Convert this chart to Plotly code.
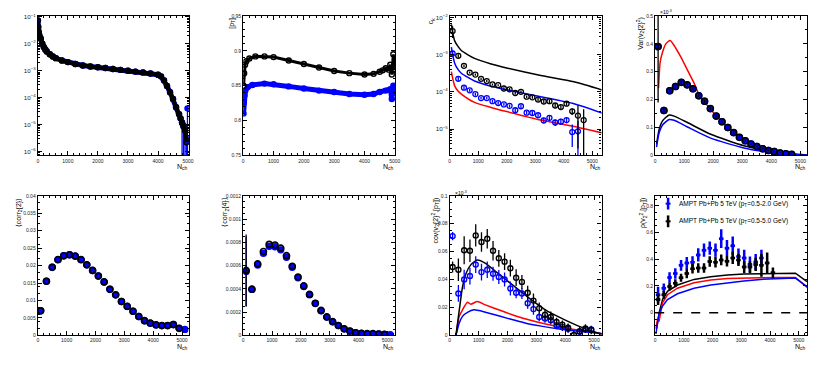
import plotly.graph_objects as go

# the page body keeps its default 8px margin, so the figure is drawn 8px in and
# everything below is placed in window pixels and shifted back by OFF
OFF = 8
W, H = 814, 350

# ---------------- data ----------------
# panel 1: multiplicity distribution
nch_dist = [5, 15, 30, 50, 75, 100, 150, 200, 250, 300, 400, 500, 600, 800, 1000, 1250, 1500,
            1750, 2000, 2250, 2500, 2750, 3000, 3250, 3500, 3750, 4000, 4100, 4200, 4300, 4400,
            4500, 4600, 4700, 4750, 4800, 4850, 4900, 4950]
dist_vals = [7.5e-2, 4.3e-2, 2.75e-2, 2.1e-2, 1.7e-2, 1.55e-2, 1.02e-2, 7.6e-3, 6.2e-3, 5.2e-3,
             4.1e-3, 3.4e-3, 2.95e-3, 2.4e-3, 2.1e-3, 1.78e-3, 1.58e-3, 1.45e-3, 1.35e-3, 1.26e-3,
             1.17e-3, 1.08e-3, 1.0e-3, 9.3e-4, 8.7e-4, 7.9e-4, 7.1e-4, 6.2e-4, 4.4e-4, 2.7e-4,
             1.6e-4, 8.9e-5, 4.4e-5, 2.45e-5, 1.7e-5, 1.17e-5, 8.5e-6, 6e-6, 2.2e-6]
nch_dist_tail = [4800, 4850, 4900, 4950, 4980]
dist_tail_blue = [1.2e-5, 9e-6, 6e-6, 3e-6, 4e-5]

# panel 2: mean pT
nch_pt_black = [10, 30, 60, 100, 200, 400, 700, 1000, 1500, 2000, 2500, 3000, 3500, 4000, 4300,
                4500, 4600, 4700, 4800, 4850, 4900, 4950, 5000]
pt_black = [0.850, 0.868, 0.880, 0.885, 0.889, 0.892, 0.892, 0.891, 0.886, 0.881, 0.876, 0.871,
            0.868, 0.866, 0.867, 0.870, 0.872, 0.875, 0.873, 0.880, 0.866, 0.895, 0.872]
nch_pt_blue = [10, 20, 40, 70, 150, 300, 700, 1000, 1500, 2000, 2500, 3000, 3500, 4000, 4300,
               4500, 4700, 4850, 4900, 4950, 5000]
pt_blue = [0.810, 0.826, 0.836, 0.843, 0.848, 0.851, 0.853, 0.852, 0.849, 0.846, 0.843, 0.841,
           0.838, 0.837, 0.838, 0.841, 0.843, 0.845, 0.831, 0.850, 0.840]

# panel 3: c_k
nch_ck_black = [100, 300, 500, 700, 900, 1100, 1300, 1500, 1700, 1900, 2100, 2300, 2500, 2700,
                2900, 3100, 3300, 3500, 3700, 3900, 4100, 4300, 4500, 4700]
ck_black = [4.3e-3, 9.3e-4, 5.0e-4, 3.3e-4, 2.9e-4, 2.24e-4, 1.95e-4, 1.58e-4, 1.51e-4, 1.23e-4,
            1.17e-4, 9.3e-5, 1.0e-4, 7.4e-5, 7.1e-5, 6.2e-5, 5.5e-5, 5.6e-5, 4.3e-5, 3.9e-5,
            4.8e-5, 3.0e-5, 2.3e-5, 1.74e-5]
ck_black_err = [1.5e-3, 1e-4, 4e-5, 2e-5, 2e-5, 1.5e-5, 1.5e-5, 1e-5, 1e-5, 1e-5, 1e-5, 8e-6,
                8e-6, 6e-6, 6e-6, 6e-6, 6e-6, 6e-6, 5e-6, 5e-6, 6e-6, 6e-6, 2e-5, 1.65e-5]
nch_ck_blue = nch_ck_black[:23]
ck_blue = [1.07e-3, 2.24e-4, 1.29e-4, 1.10e-4, 8.7e-5, 6.8e-5, 6.8e-5, 5.6e-5, 5.0e-5, 4.6e-5,
           4.2e-5, 3.2e-5, 4.1e-5, 2.75e-5, 2.7e-5, 2.35e-5, 1.7e-5, 2.0e-5, 1.5e-5, 1.58e-5,
           1.74e-5, 8.3e-6, 8.7e-6]
ck_blue_err = [2e-4, 3e-5, 1.5e-5, 1e-5, 8e-6, 6e-6, 6e-6, 5e-6, 5e-6, 4e-6, 4e-6, 4e-6, 4e-6,
               3e-6, 3e-6, 3e-6, 3e-6, 3e-6, 3e-6, 3e-6, 3e-6, 5e-6, 8e-6]
nch_ck_model = [58, 116, 174, 290, 407, 872, 1453, 2035, 3198, 4360, 5349]
ck_model_black = [6.5e-3, 3.5e-3, 2.34e-3, 1.66e-3, 1.29e-3, 7.9e-4, 5.6e-4, 4.3e-4, 2.75e-4,
                  1.86e-4, 1.12e-4]
ck_model_blue = [1.58e-3, 8.9e-4, 5.9e-4, 4.0e-4, 3.16e-4, 1.95e-4, 1.41e-4, 1.12e-4, 7.4e-5,
                 4.8e-5, 2.7e-5]
ck_model_red = [3.5e-4, 2.1e-4, 1.45e-4, 1.05e-4, 8.7e-5, 5.2e-5, 3.8e-5, 2.9e-5, 1.74e-5,
                1.17e-5, 7.9e-6]

# panel 4: Var(v2{2}^2)  (x 1e-3)
nch_var = [100, 300, 500, 700, 900, 1100, 1300, 1500, 1700, 1900, 2100, 2300, 2500, 2700, 2900,
           3100, 3300, 3500, 3700, 3900, 4100, 4300, 4500, 4700]
var_vals = [0.39, 0.161, 0.232, 0.247, 0.262, 0.253, 0.239, 0.214, 0.194, 0.168, 0.141, 0.121,
            0.100, 0.082, 0.065, 0.053, 0.041, 0.032, 0.024, 0.018, 0.014, 0.009, 0.006, 0.004]
var_black_err = [0.2, 0.006, 0.006, 0.006, 0.006, 0.006, 0.006, 0.005, 0.005, 0.005, 0.004, 0.004,
                 0.004, 0.003, 0.003, 0.003, 0.003, 0.002, 0.002, 0.002, 0.002, 0.002, 0.002, 0.002]
var_blue_err = [0.012, 0.008, 0.012, 0.012, 0.012, 0.012, 0.011, 0.01, 0.009, 0.008, 0.007, 0.006,
                0.005, 0.005, 0.004, 0.004, 0.003, 0.003, 0.003, 0.002, 0.002, 0.002, 0.002, 0.002]
nch_var_red = [114, 172, 252, 366, 515, 652, 881, 1110, 1339, 1510, 1911, 2483, 3055, 3627, 4199,
               4657, 5229]
var_red = [0.241, 0.335, 0.37, 0.40, 0.412, 0.394, 0.353, 0.306, 0.259, 0.218, 0.165, 0.103, 0.06,
           0.03, 0.012, 0.004, 0.0]
nch_var_model = [46, 137, 252, 481, 652, 1110, 1911, 3055, 4199, 5229]
var_model_black = [0.04, 0.094, 0.124, 0.145, 0.141, 0.118, 0.076, 0.035, 0.012, 0.002]
var_model_blue = [0.03, 0.082, 0.109, 0.129, 0.126, 0.102, 0.062, 0.027, 0.008, 0.001]

# panel 5: <corr2{2}>
nch_c2 = [100, 300, 500, 700, 900, 1100, 1300, 1500, 1700, 1900, 2100, 2300, 2500, 2700, 2900,
          3100, 3300, 3500, 3700, 3900, 4100, 4300, 4500, 4700, 4900, 5100]
corr2 = [0.00704, 0.0155, 0.0195, 0.0217, 0.0228, 0.0231, 0.0227, 0.0217, 0.0202, 0.0186, 0.0170,
         0.0153, 0.0132, 0.0116, 0.0097, 0.0083, 0.0069, 0.0054, 0.0042, 0.0035, 0.0030, 0.0028,
         0.0028, 0.0031, 0.0020, 0.0017]

# panel 6: <corr2{4}>
corr4_black = [0.000558, 0.000397, 0.000614, 0.000721, 0.000783, 0.000777, 0.00075, 0.000685,
               0.000594, 0.000501, 0.000425, 0.000352, 0.000276, 0.000214, 0.000158, 0.000118,
               0.0000845, 0.0000563, 0.0000366, 0.0000225, 0.000017, 0.000014, 0.000014,
               0.000011, 0.000008]
corr4_blue = [0.00055, 0.000395, 0.000605, 0.000705, 0.000765, 0.000762, 0.000735, 0.000672,
              0.000585, 0.000495, 0.00042, 0.00035, 0.000274, 0.000212, 0.000157, 0.000117,
              0.000084, 0.000056, 0.000036, 0.000022, 0.000017, 0.000014, 0.000014, 0.000011,
              0.000008, 0.000006]

# panel 7: cov(v2{2}^2,[pT])  (x 1e-3)
nch_cov_black = [100, 300, 500, 700, 900, 1100, 1300, 1500, 1700, 1900, 2100, 2300, 2500, 2700,
                 2900, 3100, 3300, 3500, 3700, 3900, 4100, 4300, 4500, 4700, 4900]
cov_black = [0.049, 0.047, 0.061, 0.0606, 0.0716, 0.0669, 0.0692, 0.0606, 0.0552, 0.0528, 0.0481,
             0.0413, 0.0383, 0.0305, 0.0249, 0.0195, 0.0148, 0.0131, 0.0096, 0.0077, 0.0054,
             0.0002, 0.003, 0.0049, 0.0038]
cov_black_err = [0.004, 0.008, 0.01, 0.008, 0.008, 0.007, 0.007, 0.007, 0.006, 0.006, 0.006, 0.006,
                 0.005, 0.005, 0.005, 0.004, 0.004, 0.004, 0.003, 0.003, 0.003, 0.003, 0.003,
                 0.003, 0.003]
nch_cov_blue = [100, 300, 500, 700, 900, 1100, 1300, 1500, 1700, 1900, 2100, 2300, 2500, 2700,
                2900, 3100, 3300, 3500, 3700, 3900, 4100, 4500, 4700, 4900]
cov_blue = [0.0711, 0.030, 0.040, 0.0425, 0.0507, 0.0453, 0.047, 0.0441, 0.0418, 0.040, 0.0336,
            0.0305, 0.030, 0.023, 0.0188, 0.0131, 0.012, 0.0108, 0.0073, 0.0061, 0.0047, 0.0026,
            0.0042, 0.0042]
cov_blue_err = [0.003, 0.006, 0.007, 0.006, 0.006, 0.006, 0.006, 0.005, 0.005, 0.005, 0.005,
                0.004, 0.004, 0.004, 0.004, 0.003, 0.003, 0.003, 0.003, 0.003, 0.003, 0.002,
                0.002, 0.002]
nch_cov_mblack = [216, 330, 443, 557, 727, 955, 1239, 1693, 2261, 2830, 3398, 3966, 4534, 5273]
cov_model_black = [0.0, 0.018, 0.0347, 0.044, 0.0505, 0.054, 0.0516, 0.0441, 0.0347, 0.0254,
                   0.0171, 0.0113, 0.0061, 0.0007]
nch_cov_mred = [216, 330, 443, 614, 727, 955, 1239, 1693, 2261, 2830, 3398, 3966, 4534, 5273]
cov_model_red = [0.0, 0.0136, 0.0183, 0.0237, 0.0223, 0.0242, 0.0218, 0.0183, 0.0141, 0.0106,
                 0.0077, 0.0054, 0.0035, 0.0012]
nch_cov_mblue = [216, 330, 443, 614, 841, 1011, 1466, 2034, 2602, 3170, 3739, 4307, 5273]
cov_model_blue = [0.0, 0.0089, 0.0136, 0.0164, 0.0183, 0.0178, 0.0153, 0.012, 0.0089, 0.0066,
                  0.0047, 0.0033, 0.0014]

# panel 8: rho(v2^2,[pT])
nch_rho_black = [100, 300, 500, 700, 900, 1100, 1300, 1500, 1700, 1900, 2100, 2300, 2500, 2700,
                 2900, 3100, 3300, 3500, 3700, 3900, 4100]
rho_black = [0.098, 0.134, 0.195, 0.22, 0.261, 0.293, 0.329, 0.334, 0.334, 0.383, 0.378, 0.395,
             0.385, 0.41, 0.395, 0.341, 0.341, 0.361, 0.354, 0.371, 0.298]
rho_black_err = [0.04, 0.03, 0.03, 0.03, 0.03, 0.035, 0.035, 0.035, 0.035, 0.04, 0.04, 0.04, 0.04,
                 0.045, 0.045, 0.045, 0.045, 0.05, 0.085, 0.08, 0.04]
nch_rho_blue = nch_rho_black[:19]
rho_blue = [0.134, 0.183, 0.263, 0.293, 0.354, 0.371, 0.378, 0.432, 0.468, 0.483, 0.468, 0.554,
            0.483, 0.50, 0.42, 0.41, 0.36, 0.38, 0.41]
rho_blue_err = [0.06, 0.035, 0.04, 0.04, 0.04, 0.045, 0.045, 0.05, 0.05, 0.05, 0.05, 0.07, 0.06,
                0.07, 0.06, 0.06, 0.06, 0.06, 0.06]
nch_rho_mblack = [46, 139, 255, 428, 775, 1354, 1933, 2512, 3090, 3669, 4248, 4884, 5289]
rho_model_black = [-0.12, 0.0, 0.098, 0.159, 0.207, 0.249, 0.268, 0.282, 0.29, 0.293, 0.295,
                   0.295, 0.232]
nch_rho_mred = [23, 81, 139, 255, 428, 775, 1354, 1933, 2512, 3090, 3669, 4248, 4884, 5289]
rho_model_red = [-0.12, -0.05, -0.06, 0.073, 0.134, 0.183, 0.224, 0.245, 0.255, 0.26, 0.262,
                 0.263, 0.263, 0.188]
nch_rho_mblue = [23, 139, 255, 428, 775, 1354, 1933, 2512, 3090, 3669, 4248, 4884, 5289]
rho_model_blue = [-0.16, 0.0, 0.049, 0.098, 0.141, 0.183, 0.207, 0.224, 0.237, 0.249, 0.256,
                  0.259, 0.195]

legend_labels = ["AMPT Pb+Pb 5 TeV (p<sub>T</sub>=0.5-2.0 GeV)",
                 "AMPT Pb+Pb 5 TeV (p<sub>T</sub>=0.5-5.0 GeV)"]

BLUE, RED, BLACK = "#0000ff", "#ff0000", "#000000"
FONT = "Liberation Sans"

# ---------------- layout of the 8 pads (window pixels) ----------------
cols = [(37, 189), (244, 397), (452, 605), (659, 812)]
rows = [(13, 155), (196, 338)]


def fx(px):
    return (px - OFF) / W


def fy(py):
    return 1 - (py - OFF) / H


def ref(i, kind):
    return kind if i == 1 else f"{kind}{i}"


fig = go.Figure()


def add_pts(i, x, y, color, symbol="circle-open", size=6, err=None, errminus=None, lw=1.4,
            mode="markers", linew=0):
    tr = dict(x=x, y=y, mode=mode, xaxis=ref(i, "x"), yaxis=ref(i, "y"), showlegend=False,
              marker=dict(symbol=symbol, size=size, color=color, line=dict(color=color, width=lw)))
    if "lines" in mode:
        tr["line"] = dict(color=color, width=linew)
    if err is not None:
        e = dict(type="data", array=err, color=color, thickness=1.3, width=0, visible=True)
        if errminus is not None:
            e["symmetric"] = False
            e["arrayminus"] = errminus
        tr["error_y"] = e
    fig.add_trace(go.Scatter(**tr))


def add_line(i, x, y, color, shape="spline", w=1.5):
    fig.add_trace(go.Scatter(x=x, y=y, mode="lines", xaxis=ref(i, "x"), yaxis=ref(i, "y"),
                             showlegend=False, line=dict(color=color, width=w, shape=shape,
                                                         smoothing=0.6)))


# panel 1
add_pts(1, nch_dist, dist_vals, BLUE, symbol="circle", size=5, mode="lines+markers", linew=5)
add_pts(1, nch_dist_tail, dist_tail_blue, BLUE, symbol="circle", size=5,
        err=[2e-6] * 5, errminus=[v - 1e-7 for v in dist_tail_blue])
add_pts(1, nch_dist, dist_vals, BLACK, size=5, mode="lines+markers", linew=4)

# panel 2
add_pts(2, nch_pt_blue, pt_blue, BLUE, symbol="circle", size=5, mode="lines+markers", linew=5)
add_pts(2, nch_pt_black, pt_black, BLACK, size=5, mode="lines+markers", linew=3)

# panel 3
add_line(3, nch_ck_model, ck_model_black, BLACK)
add_line(3, nch_ck_model, ck_model_blue, BLUE)
add_line(3, nch_ck_model, ck_model_red, RED)
add_pts(3, nch_ck_blue, ck_blue, BLUE, size=5, lw=1.3, err=ck_blue_err,
        errminus=[min(e, v - 1e-7) for e, v in zip(ck_blue_err, ck_blue)])
add_pts(3, nch_ck_black, ck_black, BLACK, size=5, lw=1.3, err=ck_black_err,
        errminus=[min(e, v - 1e-7) for e, v in zip(ck_black_err, ck_black)])

# panel 4
add_line(4, nch_var_red, var_red, RED)
add_line(4, nch_var_model, var_model_black, BLACK)
add_line(4, nch_var_model, var_model_blue, BLUE)
add_pts(4, nch_var, var_vals, BLUE, symbol="circle", size=6, err=var_blue_err)
add_pts(4, nch_var, var_vals, BLACK, size=6, lw=1.6, err=var_black_err)

# panel 5
add_pts(5, nch_c2, corr2, BLUE, symbol="circle", size=6)
add_pts(5, nch_c2[:25], corr2[:25], BLACK, size=6, lw=1.7)

# panel 6
add_pts(6, nch_c2, corr4_blue, BLUE, symbol="circle", size=6, err=[0.0003] + [0] * 25)
add_pts(6, nch_c2[:25], corr4_black, BLACK, size=6, lw=1.7, err=[0.00031] + [0] * 24)

# panel 7
add_line(7, nch_cov_mred, cov_model_red, RED)
add_line(7, nch_cov_mblue, cov_model_blue, BLUE)
add_line(7, nch_cov_mblack, cov_model_black, BLACK)
add_pts(7, nch_cov_blue, cov_blue, BLUE, size=5, err=cov_blue_err)
add_pts(7, nch_cov_black, cov_black, BLACK, size=5, err=cov_black_err)

# panel 8
add_line(8, nch_rho_mblack, rho_model_black, BLACK, shape="linear")
add_line(8, nch_rho_mred, rho_model_red, RED, shape="linear")
add_line(8, nch_rho_mblue, rho_model_blue, BLUE, shape="linear")
for xs, ys, es, c in [(nch_rho_blue, rho_blue, rho_blue_err, BLUE),
                      (nch_rho_black, rho_black, rho_black_err, BLACK)]:
    fig.add_trace(go.Scatter(x=xs, y=ys, mode="markers", xaxis="x8", yaxis="y8", showlegend=False,
                             marker=dict(symbol="square", size=3, color=c),
                             error_y=dict(type="data", array=es, color=c, thickness=2.5, width=0),
                             error_x=dict(type="constant", value=80, color=c, thickness=2.5,
                                          width=0)))

# ---------------- axes ----------------
xranges = [5020, 5010, 5330, 5230, 5230, 5270, 5260, 5290]
yaxes_cfg = [
    dict(type="log", range=[-6.15, -0.96], dtick=1, exponentformat="power"),
    dict(range=[0.75, 0.95], tickvals=[0.75, 0.8, 0.85, 0.9, 0.95],
         ticktext=["0.75", "0.8", "0.85", "0.9", "0.95"]),
    dict(type="log", range=[-5.71, -1.96], dtick=1, exponentformat="power"),
    dict(range=[0, 0.5], tickvals=[0, 0.1, 0.2, 0.3, 0.4, 0.5],
         ticktext=["0", "0.1", "0.2", "0.3", "0.4", "0.5"]),
    dict(range=[0, 0.04], tickvals=[0, 0.005, 0.01, 0.015, 0.02, 0.025, 0.03, 0.035, 0.04],
         ticktext=["0", "0.005", "0.01", "0.015", "0.02", "0.025", "0.03", "0.035", "0.04"]),
    dict(range=[0, 0.0012], tickvals=[0, 0.0002, 0.0004, 0.0006, 0.0008, 0.001, 0.0012],
         ticktext=["0", "0.0002", "0.0004", "0.0006", "0.0008", "0.001", "0.0012"]),
    dict(range=[0, 0.1], tickvals=[0, 0.02, 0.04, 0.06, 0.08, 0.1],
         ticktext=["0", "0.02", "0.04", "0.06", "0.08", "0.1"]),
    dict(range=[-0.17, 0.875], tickvals=[0, 0.2, 0.4, 0.6, 0.8],
         ticktext=["0", "0.2", "0.4", "0.6", "0.8"]),
]

common = dict(showline=True, linecolor=BLACK, linewidth=1.2, mirror="ticks", ticks="inside",
              ticklen=4, tickwidth=1, tickcolor=BLACK, showgrid=False, zeroline=False,
              tickfont=dict(family=FONT, size=5, color="#222"),
              minor=dict(ticks="inside", ticklen=2, tickcolor=BLACK, showgrid=False))

lay = {}
for i in range(1, 9):
    c = cols[(i - 1) % 4]
    r = rows[(i - 1) // 4]
    xa = dict(common, domain=[fx(c[0]), fx(c[1])], anchor=ref(i, "y"), range=[0, xranges[i - 1]],
              tickvals=[0, 1000, 2000, 3000, 4000, 5000],
              ticktext=["0", "1000", "2000", "3000", "4000", "5000"],
              minor=dict(ticks="inside", ticklen=2, tickcolor=BLACK, dtick=200, tick0=0,
                         showgrid=False))
    ya = dict(common, domain=[fy(r[1]), fy(r[0])], anchor=ref(i, "x"))
    ya.update(yaxes_cfg[i - 1])
    lay[ref(i, "xaxis")] = xa
    lay[ref(i, "yaxis")] = ya

fig.update_layout(width=W, height=H, margin=dict(l=0, r=0, t=0, b=0), paper_bgcolor="white",
                  plot_bgcolor="white", font=dict(family=FONT, color=BLACK), **lay)

# ---------------- texts ----------------


def note(text, px, py, size, xanchor="center", yanchor="middle", angle=0):
    fig.add_annotation(text=text, x=fx(px), y=fy(py), xref="paper", yref="paper",
                       xanchor=xanchor, yanchor=yanchor, textangle=angle, showarrow=False,
                       font=dict(family=FONT, size=size, color=BLACK))


for i in range(1, 9):
    c = cols[(i - 1) % 4]
    r = rows[(i - 1) // 4]
    note("N<sub>ch</sub>", c[1] + 1, r[1] + 12, 7, xanchor="right")

ytitles = [
    (2, 233, 13, "[p<sub>T</sub>]"),
    (3, 434, 12, "c<sub>k</sub>"),
    (4, 644, 12, "Var(v<sub>2</sub>{2}<sup>2</sup>)"),
    (5, 18, 196, "⟨corr<sub>2</sub>{2}⟩"),
    (6, 226, 196, "⟨corr<sub>2</sub>{4}⟩"),
    (7, 438, 196, "cov(v<sub>2</sub>{2}<sup>2</sup>,[p<sub>T</sub>])"),
    (8, 647, 196, "ρ(v<sub>2</sub><sup>2</sup>,[p<sub>T</sub>])"),
]
for i, px, py, t in ytitles:
    note(t, px, py, 7, yanchor="top", angle=-90)

note("×10<sup>-3</sup>", 662, 9, 5, xanchor="left")
note("×10<sup>-3</sup>", 455, 193, 5, xanchor="left")

fig.add_shape(type="line", xref="x8 domain", yref="y8", x0=0, x1=1, y0=0, y1=0,
              line=dict(color=BLACK, width=1.5, dash="dash"))
for k, (c, yc) in enumerate([(BLUE, 204), (BLACK, 222)]):
    fig.add_shape(type="line", xref="paper", yref="paper", x0=fx(672), x1=fx(672),
                  y0=fy(yc - 6), y1=fy(yc + 6), line=dict(color=c, width=2.5))
    fig.add_shape(type="line", xref="paper", yref="paper", x0=fx(669.5), x1=fx(674.5),
                  y0=fy(yc), y1=fy(yc), line=dict(color=c, width=2))
    note(legend_labels[k], 681, yc, 6.5, xanchor="left")

fig.write_html("out.html")
